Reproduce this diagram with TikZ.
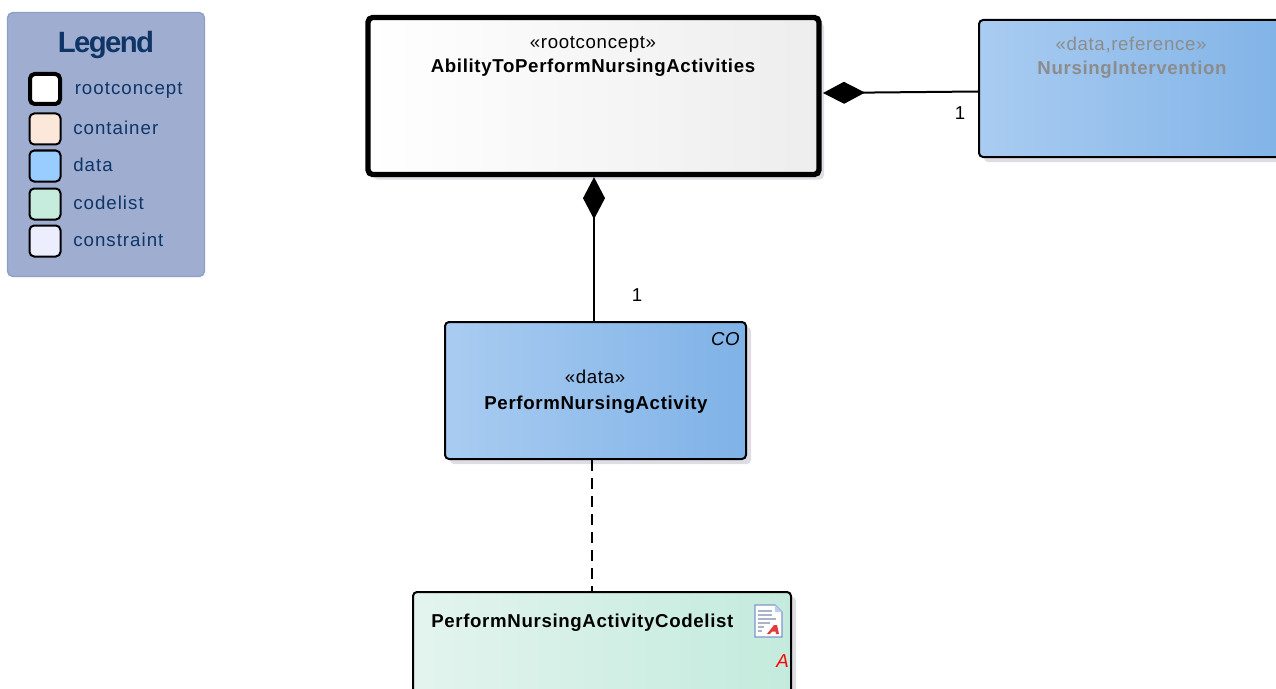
\documentclass[tikz,border=0pt]{standalone}
\usepackage{fontspec}
\setmainfont{Liberation Sans}
\usetikzlibrary{arrows.meta,shadows}
\definecolor{legfill}{HTML}{9FADD1}
\definecolor{legline}{HTML}{8E9EC7}
\definecolor{legtext}{HTML}{0F3566}
\definecolor{dataL}{HTML}{A9CCF1}
\definecolor{dataR}{HTML}{7FB2E7}
\definecolor{codeL}{HTML}{E3F4EE}
\definecolor{codeR}{HTML}{C3EBDD}
\definecolor{shade}{HTML}{DDDDE3}
\definecolor{swContainer}{RGB}{251,232,219}
\definecolor{swData}{RGB}{153,204,255}
\definecolor{swCode}{RGB}{198,236,222}
\definecolor{swCons}{RGB}{236,238,254}
\definecolor{iconEdge}{RGB}{125,150,205}
\definecolor{iconFold}{RGB}{190,205,235}
\definecolor{iconLine}{RGB}{170,180,200}
\definecolor{iconRed}{RGB}{225,60,60}
\newcommand{\bodyfont}{\fontsize{14pt}{16pt}\selectfont\addfontfeature{LetterSpace=3.5}}
\newcommand{\legendfont}{\fontsize{14pt}{16pt}\selectfont\addfontfeature{LetterSpace=5.5}}
\tikzset{
  x=0.75pt,y=-0.75pt,
  sz/.style 2 args={minimum width=#1*0.75pt,minimum height=#2*0.75pt,inner sep=0pt},
  umlbox/.style={draw=black,line width=1.5pt,rounded corners=3pt,
    drop shadow={shadow xshift=3.75pt,shadow yshift=-3.75pt,fill=shade,opacity=1}},
  swatch/.style={draw=black,line width=1.5pt,rounded corners=3.5pt,sz={31}{31}},
  legendlabel/.style={anchor=west,inner sep=0pt,text=legtext,font=\legendfont},
  stereo/.style={inner sep=0pt,font=\bodyfont},
  nametext/.style={inner sep=0pt,font=\bfseries\bodyfont},
  mult/.style={inner sep=0pt,font=\bodyfont},
  compose/.style={line width=1.5pt,-{Diamond[length=31.5pt,width=16.5pt]}},
}
\begin{document}
\begin{tikzpicture}
\useasboundingbox (0,0) rectangle (1276,688);
\clip (0,0) rectangle (1276,688);
% legend
\node[sz={197}{264},draw=legline,line width=1pt,fill=legfill,rounded corners=4pt] (legend) at (106,144.5) {};
\node[inner sep=0pt,text=legtext,font=\fontsize{22pt}{26pt}\selectfont\bfseries\addfontfeature{LetterSpace=-5.5}] (legendtitle) at (106,45) {Legend};
\node[swatch,line width=3pt,sz={30}{30},fill=white] (s1) at (45,89) {};
\node[swatch,fill=swContainer] (s2) at (45,129) {};
\node[swatch,fill=swData] (s3) at (45,166) {};
\node[swatch,fill=swCode] (s4) at (45,204) {};
\node[swatch,fill=swCons] (s5) at (45,241) {};
\node[legendlabel] (l1) at (74.5,90) {rootconcept};
\node[legendlabel] (l2) at (73,128) {container};
\node[legendlabel] (l3) at (73,165) {data};
\node[legendlabel] (l4) at (73,203) {codelist};
\node[legendlabel] (l5) at (73,240) {constraint};
% boxes
\node[umlbox,line width=4pt,rounded corners=3.5pt,sz={451}{157},left color=white,right color=black!7] (root) at (593.5,96) {};
\node[umlbox,sz={301}{137},left color=dataL,right color=dataR] (perform) at (595.5,390.5) {};
\node[umlbox,sz={320}{137},left color=dataL,right color=dataR] (ni) at (1139,88.5) {};
\node[umlbox,sz={378}{110},left color=codeL,right color=codeR] (code) at (602,647) {};
% box texts
\node[stereo] (rootS) at (593,44) {«rootconcept»};
\node[nametext] (rootN) at (593,68) {AbilityToPerformNursingActivities};
\node[stereo] (perfS) at (595,377) {«data»};
\node[nametext] (perfN) at (596,405) {PerformNursingActivity};
\node[inner sep=0pt,anchor=east,font=\itshape\bodyfont] (co) at (740,339) {CO};
\node[stereo,text=black!45] (niS) at (1131,44.5) {«data,reference»};
\node[nametext,text=black!45] (niN) at (1132,70) {NursingIntervention};
\node[nametext,anchor=west] (codeN) at (431,623) {PerformNursingActivityCodelist};
\node[inner sep=0pt,anchor=east,text=red,font=\itshape\bodyfont] (codeA) at (789,661) {A};
% document icon
\fill[white,draw=iconEdge,line width=1pt] (755,605) -- (775,605) -- (782,612) -- (782,637) -- (755,637) -- cycle;
\fill[iconFold] (775,605) -- (782,612) -- (775,612) -- cycle;
\foreach \yy/\xx in {611/772,615/772,619/776,623/770,627/764,631/762}
  \draw[iconLine,line width=0.8pt] (758,\yy) -- (\xx,\yy);
\fill[iconRed] (767,634) -- (774,625) -- (777,625) -- (779,634) -- (776,634) -- (775.5,631.5) -- (772,631.5) -- (770,634) -- cycle;
% connectors
\draw[compose] ([yshift=-2.25pt]ni.west) -- (823,93);
\coordinate (perfTop) at (594,321);
\draw[compose] (perfTop) -- (root.south -| perfTop);
\coordinate (perfBot) at (592,460);
\coordinate (codeTop) at (592,592);
\draw[line width=1.5pt,dash pattern=on 8.5pt off 5pt] (perfBot) -- (codeTop);
\node[mult] (m1) at (960,113) {1};
\node[mult] (m2) at (637,295) {1};
\end{tikzpicture}
\end{document}
